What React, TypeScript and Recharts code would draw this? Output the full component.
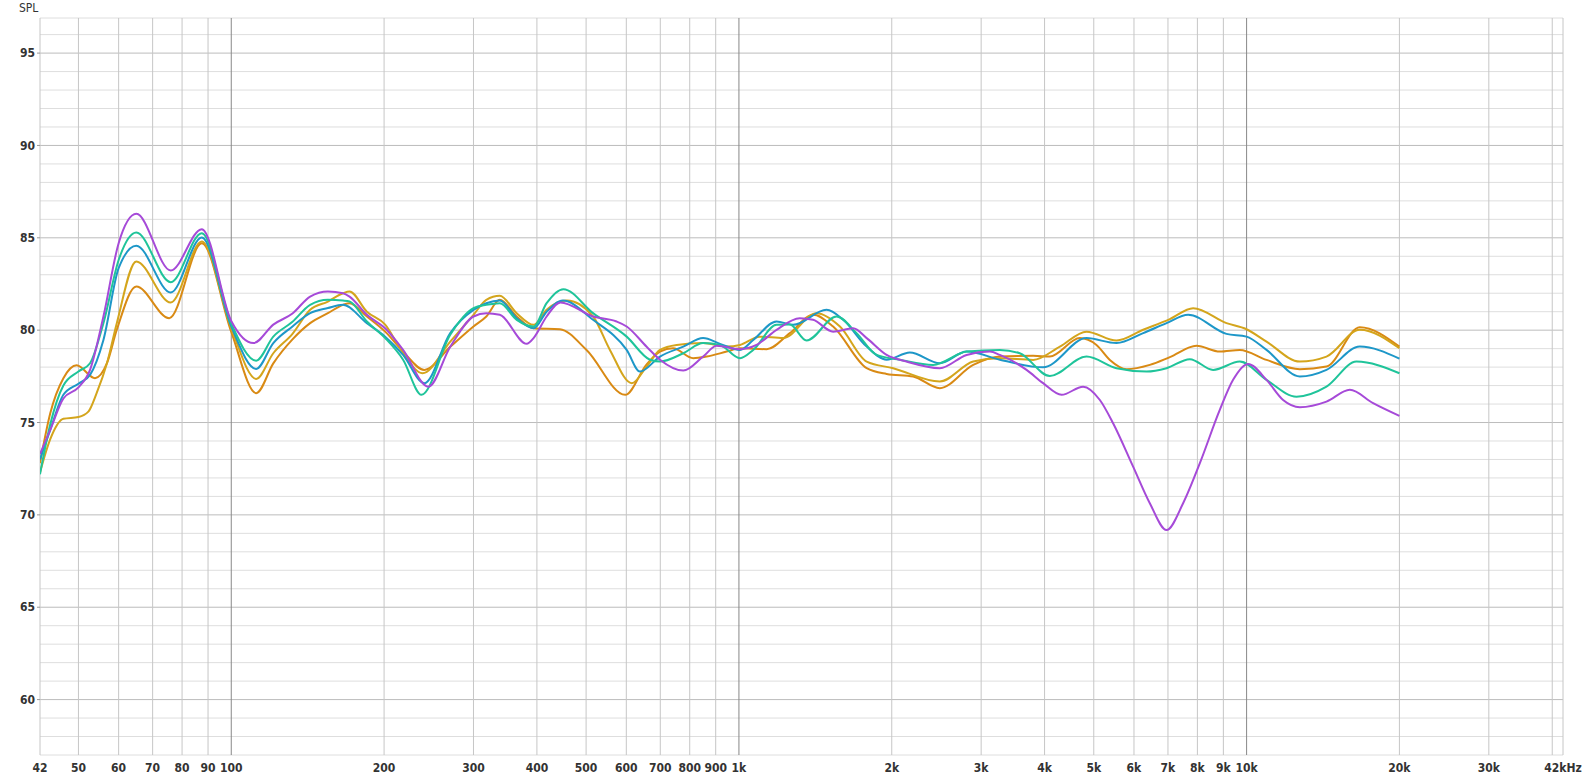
import { LineChart, Line, XAxis, YAxis, CartesianGrid } from "recharts";

// frequency response, 5 measurements (Hz / dB SPL)
const purpleHz = [42, 44, 46.7, 50, 52.7, 56, 60, 65, 76, 87.5, 100, 110.6, 121, 132, 143, 155, 166, 171, 185, 201, 218, 244.5, 270, 300, 318, 338, 382, 394, 418, 445, 516, 574, 601, 658, 699, 777, 850, 904, 1005, 1083, 1186, 1318, 1400, 1533, 1679, 1785, 1954, 2139, 2487, 2809, 3121, 3266, 3686, 3974, 4320, 4764, 5140, 5458, 5977, 6447, 6955, 7498, 8090, 8855, 9406, 10069, 10945, 11801, 12730, 14367, 15967, 17748, 20000];
const purpleDb = [73.3, 74.6, 76.3, 76.9, 77.85, 80.74, 84.71, 86.3, 83.23, 85.47, 80.5, 79.3, 80.3, 80.9, 81.82, 82.09, 82.0, 81.82, 80.83, 80.1, 78.93, 76.94, 79.1, 80.74, 80.92, 80.83, 79.26, 79.57, 80.74, 81.5, 80.74, 80.47, 80.2, 79.1, 78.4, 77.81, 78.57, 79.15, 78.97, 79.2, 80.02, 80.65, 80.56, 79.92, 80.1, 79.57, 78.66, 78.3, 77.94, 78.66, 78.84, 78.66, 77.85, 77.13, 76.5, 76.94, 76.22, 74.96, 72.61, 70.63, 69.18, 70.63, 72.8, 75.68, 77.31, 78.17, 77.31, 76.22, 75.83, 76.13, 76.77, 76.05, 75.36];

const tealHz = [42, 44, 46.7, 50, 52.7, 56, 60, 65, 76, 87.5, 100, 112, 121, 132, 143, 155, 166, 171, 185, 201, 218, 237, 270, 300, 318, 338, 365, 394, 418, 451, 516, 601, 668, 699, 777, 850, 918, 1005, 1067, 1186, 1260, 1359, 1557, 1705, 1867, 2075, 2413, 2809, 3266, 3575, 4096, 4838, 5543, 6353, 6955, 7730, 8590, 9696, 10945, 12541, 14367, 16460, 20000];
const tealDb = [72.2, 74.9, 77.0, 77.76, 78.21, 80.38, 83.8, 85.29, 82.6, 85.25, 80.35, 78.35, 79.65, 80.45, 81.37, 81.64, 81.6, 81.55, 80.47, 79.57, 78.4, 76.5, 79.75, 81.19, 81.37, 81.46, 80.56, 80.2, 81.46, 82.22, 80.92, 79.65, 78.4, 78.3, 78.75, 79.3, 79.2, 78.48, 78.93, 80.29, 80.3, 79.44, 80.74, 79.84, 78.66, 78.4, 78.12, 78.84, 78.93, 78.75, 77.52, 78.57, 77.94, 77.76, 77.94, 78.43, 77.85, 78.3, 77.31, 76.4, 76.94, 78.3, 77.67];

const blueHz = [42, 44, 46.7, 50, 52.7, 56, 60, 65, 76, 87.5, 100, 112, 121, 132, 143, 155, 166, 185, 201, 218, 240, 270, 300, 318, 338, 365, 394, 418, 450, 516, 601, 638, 699, 777, 850, 918, 1005, 1067, 1186, 1279, 1488, 1605, 1785, 1954, 2171, 2487, 2809, 3266, 3974, 4838, 5543, 6255, 6955, 7671, 9128, 9995, 10945, 12730, 14367, 16709, 20000];
const blueDb = [73.0, 74.6, 76.5, 77.1, 77.58, 79.47, 83.36, 84.57, 82.04, 85.02, 80.2, 77.9, 79.3, 80.2, 80.92, 81.2, 81.37, 80.38, 79.65, 78.66, 77.13, 79.84, 81.1, 81.46, 81.6, 80.65, 80.1, 81.0, 81.6, 80.56, 78.93, 77.76, 78.57, 79.11, 79.57, 79.26, 78.93, 79.47, 80.47, 80.29, 81.1, 80.56, 79.11, 78.4, 78.79, 78.21, 78.84, 78.4, 77.99, 79.57, 79.3, 79.84, 80.38, 80.83, 79.8, 79.65, 78.93, 77.49, 77.85, 79.11, 78.46];

const goldHz = [42, 44, 46.7, 50, 52.3, 54.3, 56.9, 59.5, 65, 76, 87.5, 100, 112, 121, 132, 143, 155, 166, 171, 185, 201, 218, 238, 270, 300, 318, 338, 365, 394, 418, 458, 516, 557, 615, 658, 699, 754, 850, 946, 1005, 1100, 1222, 1422, 1581, 1785, 2013, 2487, 2894, 3266, 3798, 4287, 4838, 5543, 6255, 7061, 7847, 9128, 9995, 10945, 12730, 14367, 16709, 20000];
const goldDb = [72.3, 74.1, 75.2, 75.3, 75.59, 76.59, 78.21, 80.38, 83.72, 81.5, 84.8, 80.1, 77.36, 78.75, 79.8, 81.1, 81.55, 82.0, 82.09, 81.0, 80.3, 78.75, 77.67, 79.38, 80.83, 81.64, 81.86, 80.92, 80.29, 81.1, 81.6, 80.74, 78.93, 77.13, 78.03, 78.93, 79.2, 79.3, 79.11, 79.2, 79.65, 79.57, 80.92, 80.2, 78.3, 77.94, 77.22, 78.3, 78.48, 78.39, 79.11, 79.92, 79.44, 80.02, 80.6, 81.19, 80.38, 80.05, 79.38, 78.3, 78.57, 80.02, 79.02];

const orangeHz = [42, 44, 46.7, 49.6, 53.9, 56.9, 59.5, 65, 75.5, 87.5, 100, 112, 121, 132, 143, 155, 166, 171, 185, 201, 218, 240, 270, 300, 318, 338, 365, 394, 444, 501, 597, 658, 699, 742, 813, 864, 946, 1005, 1134, 1260, 1401, 1533, 1785, 1954, 2204, 2487, 2894, 3266, 3798, 4096, 4694, 5062, 5378, 5801, 6447, 7061, 7969, 8855, 9696, 10945, 12730, 14367, 16709, 20000];
const orangeDb = [72.8, 75.5, 77.4, 78.1, 77.4, 78.21, 80.02, 82.36, 80.65, 84.7, 79.9, 76.59, 78.2, 79.5, 80.38, 80.92, 81.37, 81.46, 80.74, 79.92, 78.84, 77.85, 79.1, 80.2, 80.74, 81.64, 80.74, 80.1, 80.05, 78.93, 76.5, 78.15, 78.84, 79.02, 78.48, 78.57, 78.84, 79.02, 78.97, 79.84, 80.83, 80.2, 77.94, 77.63, 77.49, 76.86, 78.12, 78.57, 78.61, 78.57, 79.57, 79.2, 78.39, 77.89, 78.12, 78.54, 79.15, 78.84, 78.93, 78.39, 77.89, 78.03, 80.16, 79.11];

const xTicks = [42, 50, 60, 70, 80, 90, 100, 200, 300, 400, 500, 600, 700, 800, 900, 1000, 2000, 3000, 4000, 5000, 6000, 7000, 8000, 9000, 10000, 20000, 30000, 42000];
const yTicks = [60, 65, 70, 75, 80, 85, 90, 95];
const gridHz = [42, 50, 60, 70, 80, 90, 200, 300, 400, 500, 600, 700, 800, 900, 2000, 3000, 4000, 5000, 6000, 7000, 8000, 9000, 20000, 30000, 40000, 42000];
const decadeHz = [100, 1000, 10000];
const minorDb = [57, 58, 59, 61, 62, 63, 64, 66, 67, 68, 69, 71, 72, 73, 74, 76, 77, 78, 79, 81, 82, 83, 84, 86, 87, 88, 89, 91, 92, 93, 94, 96, 96.9];

const X_MIN = 42;
const X_MAX = 42000;
const Y_MIN = 57;
const Y_MAX = 96.9;

const FONT = "'Liberation Sans Narrow', 'DejaVu Sans Condensed', 'Roboto Condensed', sans-serif";

const series = [
  { name: "orange", color: "#d98a14", hz: orangeHz, db: orangeDb },
  { name: "gold", color: "#d4a51c", hz: goldHz, db: goldDb },
  { name: "blue", color: "#1d97c8", hz: blueHz, db: blueDb },
  { name: "teal", color: "#1fc49a", hz: tealHz, db: tealDb },
  { name: "purple", color: "#a64ad8", hz: purpleHz, db: purpleDb },
];

const toPoints = (hz: number[], db: number[]) => hz.map((f, i) => ({ f, v: db[i] }));

// grid lines placed through the axis scales
const vGen = (values: number[]) => ({ xAxis, offset }: any) =>
  values.map((v) =>
    xAxis && typeof xAxis.scale === "function"
      ? xAxis.scale(v)
      : offset.left + (offset.width * Math.log10(v / X_MIN)) / Math.log10(X_MAX / X_MIN)
  );

const hGen = (values: number[]) => ({ yAxis, offset }: any) =>
  values.map((v) =>
    yAxis && typeof yAxis.scale === "function"
      ? yAxis.scale(v)
      : offset.top + (offset.height * (Y_MAX - v)) / (Y_MAX - Y_MIN)
  );

const fmtHz = (f: number) => {
  if (f === 42000) return "42kHz";
  if (f >= 1000) return `${f / 1000}k`;
  return String(f);
};

export default function App() {
  return (
    <div style={{ position: "absolute", left: 0, top: 0, width: 1583, height: 780, background: "#fff" }}>
      <div style={{ position: "absolute", left: 19, top: 1, fontFamily: FONT, fontSize: 12, color: "#333" }}>SPL</div>
      <LineChart width={1583} height={780} margin={{ top: 18, right: 20, bottom: 0, left: 0 }}>
        <CartesianGrid vertical={false} horizontalCoordinatesGenerator={hGen(minorDb)} stroke="#dedede" />
        <CartesianGrid vertical={false} horizontalCoordinatesGenerator={hGen(yTicks)} stroke="#bcbcbc" />
        <CartesianGrid horizontal={false} verticalCoordinatesGenerator={vGen(gridHz)} stroke="#c6c6c6" />
        <CartesianGrid horizontal={false} verticalCoordinatesGenerator={vGen(decadeHz)} stroke="#888" />
        <XAxis
          type="number"
          dataKey="f"
          scale="log"
          domain={[X_MIN, X_MAX]}
          ticks={xTicks}
          interval={0}
          allowDataOverflow
          height={25}
          tickLine={false}
          axisLine={false}
          tickFormatter={fmtHz}
          tick={{ fill: "#333", fontSize: 12, fontFamily: FONT, fontWeight: "bold" }}
        />
        <YAxis
          type="number"
          domain={[Y_MIN, Y_MAX]}
          ticks={yTicks}
          interval={0}
          allowDataOverflow
          width={40}
          tickSize={3}
          tickMargin={2}
          axisLine={false}
          tickLine={{ stroke: "#999" }}
          tick={{ fill: "#333", fontSize: 12, fontFamily: FONT, fontWeight: "bold" }}
        />
        {series.map((s) => (
          <Line
            key={s.name}
            data={toPoints(s.hz, s.db)}
            dataKey="v"
            type="monotone"
            stroke={s.color}
            strokeWidth={2}
            dot={false}
            activeDot={false}
            isAnimationActive={false}
          />
        ))}
      </LineChart>
    </div>
  );
}
